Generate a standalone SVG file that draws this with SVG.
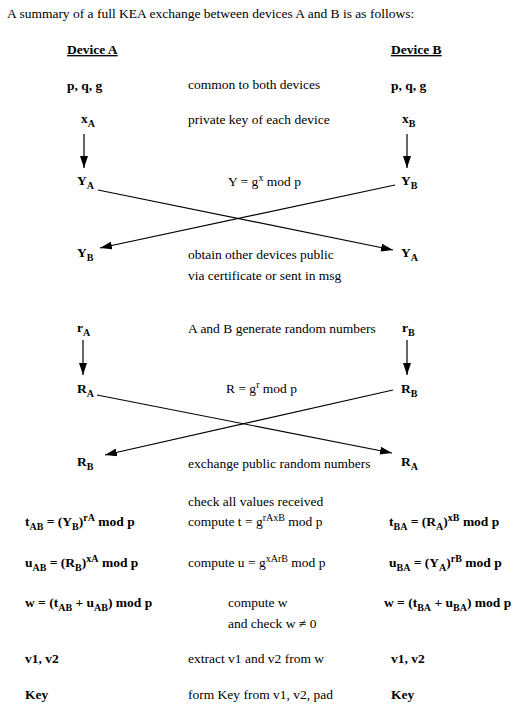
<svg xmlns="http://www.w3.org/2000/svg" width="518" height="712" viewBox="0 0 518 712">
<defs>
<marker id="ah" viewBox="0 0 12 8" refX="12" refY="4" markerWidth="12" markerHeight="8" markerUnits="userSpaceOnUse" orient="auto">
<path d="M0,0 L12,4 L0,8 z" fill="#000"/>
</marker>
<style>
text{font-family:"Liberation Serif","Times New Roman",serif;font-size:13.5px;fill:#000}
.b{font-weight:bold}
.s{font-size:10px}
.u{text-decoration:underline}
.c line{stroke:#000;stroke-width:1.2;marker-end:url(#ah)}
</style>
</defs>
<rect width="518" height="712" fill="#fff"/>
<text x="7" y="18">A summary of a full KEA exchange between devices A and B is as follows:</text>

<g id="hdrA"><text class="b u" x="67" y="54">Device A</text></g>
<g id="hdrB"><text class="b u" x="391" y="54">Device B</text></g>

<g id="pqgA"><text class="b" x="67" y="90">p, q, g</text></g>
<g id="pqgNote"><text x="188" y="89">common to both devices</text></g>
<g id="pqgB"><text class="b" x="391" y="90">p, q, g</text></g>

<g id="xA"><text class="b" x="81" y="123">x<tspan class="s" dy="4">A</tspan></text></g>
<g id="xNote"><text x="188" y="124">private key of each device</text></g>
<g id="xB"><text class="b" x="402" y="123">x<tspan class="s" dy="4">B</tspan></text></g>

<g id="YA"><text class="b" x="77" y="185">Y<tspan class="s" dy="4">A</tspan></text></g>
<g id="YNote"><text x="228" y="186">Y = g<tspan class="s" dy="-5">x</tspan><tspan dy="5"> mod p</tspan></text></g>
<g id="YB"><text class="b" x="401" y="185">Y<tspan class="s" dy="4">B</tspan></text></g>

<g id="YB2"><text class="b" x="77" y="257">Y<tspan class="s" dy="4">B</tspan></text></g>
<g id="obtainNote"><text x="188" y="259">obtain other devices public</text><text x="188" y="280">via certificate or sent in msg</text></g>
<g id="YA2"><text class="b" x="401" y="257">Y<tspan class="s" dy="4">A</tspan></text></g>

<g id="rA"><text class="b" x="77" y="332">r<tspan class="s" dy="4">A</tspan></text></g>
<g id="rNote"><text x="188" y="333">A and B generate random numbers</text></g>
<g id="rB"><text class="b" x="402" y="332">r<tspan class="s" dy="4">B</tspan></text></g>

<g id="RA"><text class="b" x="77" y="393">R<tspan class="s" dy="4">A</tspan></text></g>
<g id="RNote"><text x="226" y="393">R = g<tspan class="s" dy="-5">r</tspan><tspan dy="5"> mod p</tspan></text></g>
<g id="RB"><text class="b" x="401" y="393">R<tspan class="s" dy="4">B</tspan></text></g>

<g id="RB2"><text class="b" x="77" y="466">R<tspan class="s" dy="4">B</tspan></text></g>
<g id="exNote"><text x="188" y="468">exchange public random numbers</text></g>
<g id="RA2"><text class="b" x="401" y="466">R<tspan class="s" dy="4">A</tspan></text></g>

<g id="checkNote"><text x="188" y="506">check all values received</text></g>

<g id="tAB"><text class="b" x="25" y="526">t<tspan class="s" dy="4">AB</tspan><tspan dy="-4"> = (Y</tspan><tspan class="s" dy="4">B</tspan><tspan dy="-4">)</tspan><tspan class="s" dy="-5">rA</tspan><tspan dy="5"> mod p</tspan></text></g>
<g id="tNote"><text x="188" y="526">compute t = g<tspan class="s" dy="-5">rAxB</tspan><tspan dy="5"> mod p</tspan></text></g>
<g id="tBA"><text class="b" x="389" y="526">t<tspan class="s" dy="4">BA</tspan><tspan dy="-4"> = (R</tspan><tspan class="s" dy="4">A</tspan><tspan dy="-4">)</tspan><tspan class="s" dy="-5">xB</tspan><tspan dy="5"> mod p</tspan></text></g>

<g id="uAB"><text class="b" x="25" y="567">u<tspan class="s" dy="4">AB</tspan><tspan dy="-4"> = (R</tspan><tspan class="s" dy="4">B</tspan><tspan dy="-4">)</tspan><tspan class="s" dy="-5">xA</tspan><tspan dy="5"> mod p</tspan></text></g>
<g id="uNote"><text x="188" y="567">compute u = g<tspan class="s" dy="-5">xArB</tspan><tspan dy="5"> mod p</tspan></text></g>
<g id="uBA"><text class="b" x="389" y="567">u<tspan class="s" dy="4">BA</tspan><tspan dy="-4"> = (Y</tspan><tspan class="s" dy="4">A</tspan><tspan dy="-4">)</tspan><tspan class="s" dy="-5">rB</tspan><tspan dy="5"> mod p</tspan></text></g>

<g id="wA"><text class="b" x="25" y="607">w = (t<tspan class="s" dy="4">AB</tspan><tspan dy="-4"> + u</tspan><tspan class="s" dy="4">AB</tspan><tspan dy="-4">) mod p</tspan></text></g>
<g id="wNote"><text x="228" y="607">compute w</text><text x="228" y="628">and check w ≠ 0</text></g>
<g id="wB"><text class="b" x="384" y="607">w = (t<tspan class="s" dy="4">BA</tspan><tspan dy="-4"> + u</tspan><tspan class="s" dy="4">BA</tspan><tspan dy="-4">) mod p</tspan></text></g>

<g id="vA"><text class="b" x="25" y="663">v1, v2</text></g>
<g id="vNote"><text x="188" y="663">extract v1 and v2 from w</text></g>
<g id="vB"><text class="b" x="391" y="663">v1, v2</text></g>

<g id="keyA"><text class="b" x="25" y="699">Key</text></g>
<g id="keyNote"><text x="188" y="699">form Key from v1, v2, pad</text></g>
<g id="keyB"><text class="b" x="391" y="699">Key</text></g>

<g id="connectors" class="c">
<line x1="84" y1="134" x2="84" y2="168"/>
<line x1="407" y1="134" x2="407" y2="168"/>
<line x1="98" y1="190" x2="393" y2="250"/>
<line x1="395" y1="185" x2="100" y2="248"/>
<line x1="83" y1="340" x2="83" y2="375"/>
<line x1="407" y1="340" x2="407" y2="375"/>
<line x1="97" y1="395" x2="392" y2="453"/>
<line x1="393" y1="390" x2="105" y2="455"/>
</g>
</svg>
